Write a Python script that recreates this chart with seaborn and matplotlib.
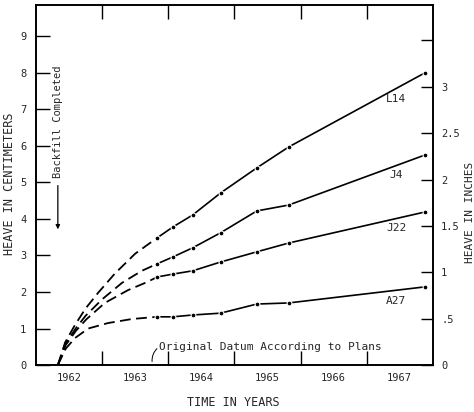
import matplotlib
matplotlib.use("Agg")
import matplotlib.pyplot as plt
import seaborn as sns
import pandas as pd

# dashed early part of each curve
l14_early_x = [1962.33, 1962.44, 1962.59, 1962.75, 1962.94, 1963.19, 1963.50, 1963.83]
l14_early_y = [0.0, 0.62, 1.10, 1.55, 1.98, 2.50, 3.05, 3.48]
j4_early_x = [1962.33, 1962.45, 1962.60, 1962.75, 1963.00, 1963.30, 1963.60, 1963.83]
j4_early_y = [0.0, 0.60, 1.00, 1.35, 1.80, 2.25, 2.58, 2.77]
j22_early_x = [1962.33, 1962.45, 1962.60, 1962.76, 1963.04, 1963.39, 1963.69, 1963.83]
j22_early_y = [0.0, 0.55, 0.93, 1.25, 1.70, 2.05, 2.28, 2.41]
a27_early_x = [1962.33, 1962.45, 1962.59, 1962.79, 1963.09, 1963.45, 1963.83]
a27_early_y = [0.0, 0.45, 0.74, 1.00, 1.15, 1.26, 1.32]

# measured points
obs_years = [1963.83, 1964.07, 1964.37, 1964.79, 1965.34, 1965.82, 1967.88]
l14 = [3.48, 3.78, 4.11, 4.71, 5.40, 5.97, 8.00]
j4 = [2.77, 2.96, 3.21, 3.62, 4.22, 4.38, 5.75]
j22 = [2.41, 2.49, 2.58, 2.82, 3.10, 3.34, 4.19]
a27 = [1.32, 1.32, 1.37, 1.42, 1.67, 1.70, 2.14]

names = ["L14", "J4", "J22", "A27"]
label_y = [7.29, 5.20, 3.75, 1.75]
year_labels = ["1962", "1963", "1964", "1965", "1966", "1967"]
cm_ticks = list(range(10))
in_ticks = [0, 0.5, 1, 1.5, 2, 2.5, 3, 3.5]
in_labels = ["0", ".5", "1", "1.5", "2", "2.5", "3", ""]

sns.set_style("ticks")
plt.rcParams["font.family"] = ["DejaVu Sans Mono"]

fig = plt.figure(figsize=(4.74, 4.12), dpi=100)
ax = fig.add_axes([0.076, 0.114, 0.837, 0.874])

early = [(l14_early_x, l14_early_y), (j4_early_x, j4_early_y),
         (j22_early_x, j22_early_y), (a27_early_x, a27_early_y)]
for (ex, ey), vals in zip(early, [l14, j4, j22, a27]):
    sns.lineplot(x=ex, y=ey, ax=ax, color="black", lw=1.3, sort=False,
                 linestyle=(0, (6, 3)))
    df = pd.DataFrame({"year": obs_years, "cm": vals})
    sns.lineplot(data=df, x="year", y="cm", ax=ax, color="black", lw=1.2,
                 marker="o", markersize=3.5, markeredgecolor="white",
                 markeredgewidth=0.8, sort=False)

for nm, ly in zip(names, label_y):
    ax.text(1967.45, ly, nm, fontsize=8, ha="center", va="center")

ax.set_xlim(1962, 1968)
ax.set_ylim(0, 9.86)
ax.set_xlabel("")
ax.set_ylabel("")

ax.set_xticks([1963, 1964, 1965, 1966, 1967])
ax.set_xticklabels([])
ax.set_xticks([y + 0.5 for y in range(1962, 1968)], minor=True)
ax.set_xticklabels(year_labels, minor=True, fontsize=7.5)
ax.tick_params(axis="x", which="major", direction="in", length=10, width=1,
               top=True, color="black")
ax.tick_params(axis="x", which="minor", length=0, pad=6)

ax.set_yticks(cm_ticks)
ax.set_yticklabels([str(v) for v in cm_ticks], fontsize=7.5)
ax.tick_params(axis="y", direction="in", length=10, width=1, pad=7, color="black")

ax2 = ax.twinx()
ax2.set_ylim(0, 9.86 / 2.54)
ax2.set_yticks(in_ticks)
ax2.set_yticklabels(in_labels, fontsize=7.5)
ax2.tick_params(axis="y", direction="in", length=9, width=1, pad=6, color="black")

for a in (ax, ax2):
    for s in a.spines.values():
        s.set_color("black")
        s.set_linewidth(1.2)

# annotations
ax.text(1962.33, 6.66, "Backfill Completed", rotation=90, fontsize=7.5,
        ha="center", va="center")
ax.annotate("", xy=(1962.33, 3.64), xytext=(1962.33, 4.99),
            arrowprops=dict(arrowstyle="-|>", color="black", lw=0.9,
                            mutation_scale=6))
ax.text(1963.86, 0.50, "Original Datum According to Plans", fontsize=8,
        ha="left", va="center")
ax.annotate("", xy=(1963.76, 0.02), xytext=(1963.86, 0.50),
            arrowprops=dict(arrowstyle="-", color="black", lw=0.7,
                            connectionstyle="arc3,rad=0.3"))

fig.text(10 / 474, 1 - 184 / 412, "HEAVE IN CENTIMETERS", rotation=90,
         fontsize=8.5, ha="center", va="center")
fig.text(233 / 474, 1 - 403 / 412, "TIME IN YEARS", fontsize=8.5,
         ha="center", va="center")
fig.text(470 / 474, 1 - 212 / 412, "HEAVE IN INCHES", rotation=90,
         fontsize=8, ha="center", va="center")

fig.savefig("out.png", dpi=100)
